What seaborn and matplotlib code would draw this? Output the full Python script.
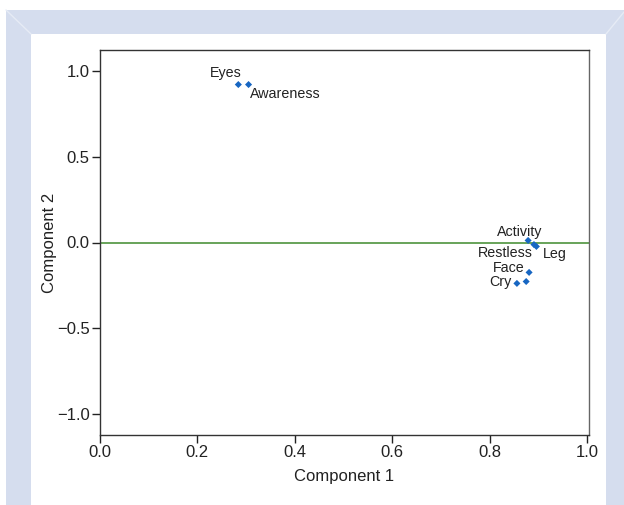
import numpy as np
import pandas as pd
import matplotlib
matplotlib.use("Agg")
import matplotlib.pyplot as plt
from matplotlib.patches import Polygon
from matplotlib.ticker import FuncFormatter
import seaborn as sns

# data
items = ["Eyes", "Awareness", "Activity", "Restless", "Leg", "Face", "Cry", None]
comp1 = [0.284, 0.305, 0.879, 0.891, 0.896, 0.881, 0.856, 0.875]
comp2 = [0.919, 0.919, 0.012, -0.012, -0.023, -0.174, -0.238, -0.227]

xticks = [0.0, 0.2, 0.4, 0.6, 0.8, 1.0]
yticks = [-1.0, -0.5, 0.0, 0.5, 1.0]

df = pd.DataFrame({"item": items, "c1": comp1, "c2": comp2})

sns.set_style("ticks")
plt.rcParams['font.family'] = ['Liberation Sans', 'DejaVu Sans']

W, H = 624, 505
fig = plt.figure(figsize=(W / 100, H / 100), dpi=100)
fig.patch.set_facecolor("white")

# frame (blue bevel border)
def px(x, y):
    return (x / W, 1 - y / H)

blue = "#d5ddee"
fig.patches.append(Polygon([px(6, 10), px(624, 10), px(624, 505), px(6, 505)],
                           closed=True, transform=fig.transFigure, facecolor=blue,
                           edgecolor="none", zorder=-2))
fig.patches.append(Polygon([px(31, 34), px(606, 34), px(606, 505), px(31, 505)],
                           closed=True, transform=fig.transFigure, facecolor="white",
                           edgecolor="none", zorder=-1))
for a, b in [((6, 10), (31, 34)), ((624, 12), (606, 34))]:
    fig.lines.append(plt.Line2D([px(*a)[0], px(*b)[0]], [px(*a)[1], px(*b)[1]],
                                transform=fig.transFigure, color="#e6ebf5", lw=1))

ax = fig.add_axes([100 / W, (H - 435) / H, (589 - 100) / W, (435 - 50) / H])
ax.set_facecolor("white")

ax.axhline(0, color="#3f8a2c", lw=1.1, zorder=1)
sns.scatterplot(data=df, x="c1", y="c2", marker="D", s=13, color="#1766c2",
                edgecolor="none", ax=ax, zorder=3)

# label offsets (pixels), alignment
offs = {
    "Eyes": (3, 8, "right"),
    "Awareness": (1, -13, "left"),
    "Activity": (-8, 4, "center"),
    "Restless": (-1, -12, "right"),
    "Leg": (6, -12, "left"),
    "Face": (-4, 0, "right"),
    "Cry": (-5, -3, "right"),
}
for name, x, y in zip(items, comp1, comp2):
    if name is None:
        continue
    dx, dy, ha = offs[name]
    ax.annotate(name, (x, y), xytext=(dx, dy), textcoords="offset pixels",
                ha=ha, va="baseline", fontsize=10.3, color="#222222")

fmt = FuncFormatter(lambda v, p: f"{v:.1f}".replace("-", "\u2212"))
ax.set_xlim(0, 1.004)
ax.set_ylim(-1.12, 1.12)
ax.set_xticks(xticks)
ax.set_yticks(yticks)
ax.xaxis.set_major_formatter(fmt)
ax.yaxis.set_major_formatter(fmt)
ax.tick_params(direction="out", length=5.5, width=1, colors="#222222",
               labelsize=12, pad=2)
for s in ax.spines.values():
    s.set_visible(True)
    s.set_color("#333333")
    s.set_linewidth(1)
ax.spines["right"].set_color("#666666")

ax.set_xlabel("Component 1", fontsize=12, color="#222222", labelpad=6)
ax.set_ylabel("Component 2", fontsize=12, color="#222222", labelpad=0)

fig.savefig("out.png", dpi=100, facecolor=fig.get_facecolor())
